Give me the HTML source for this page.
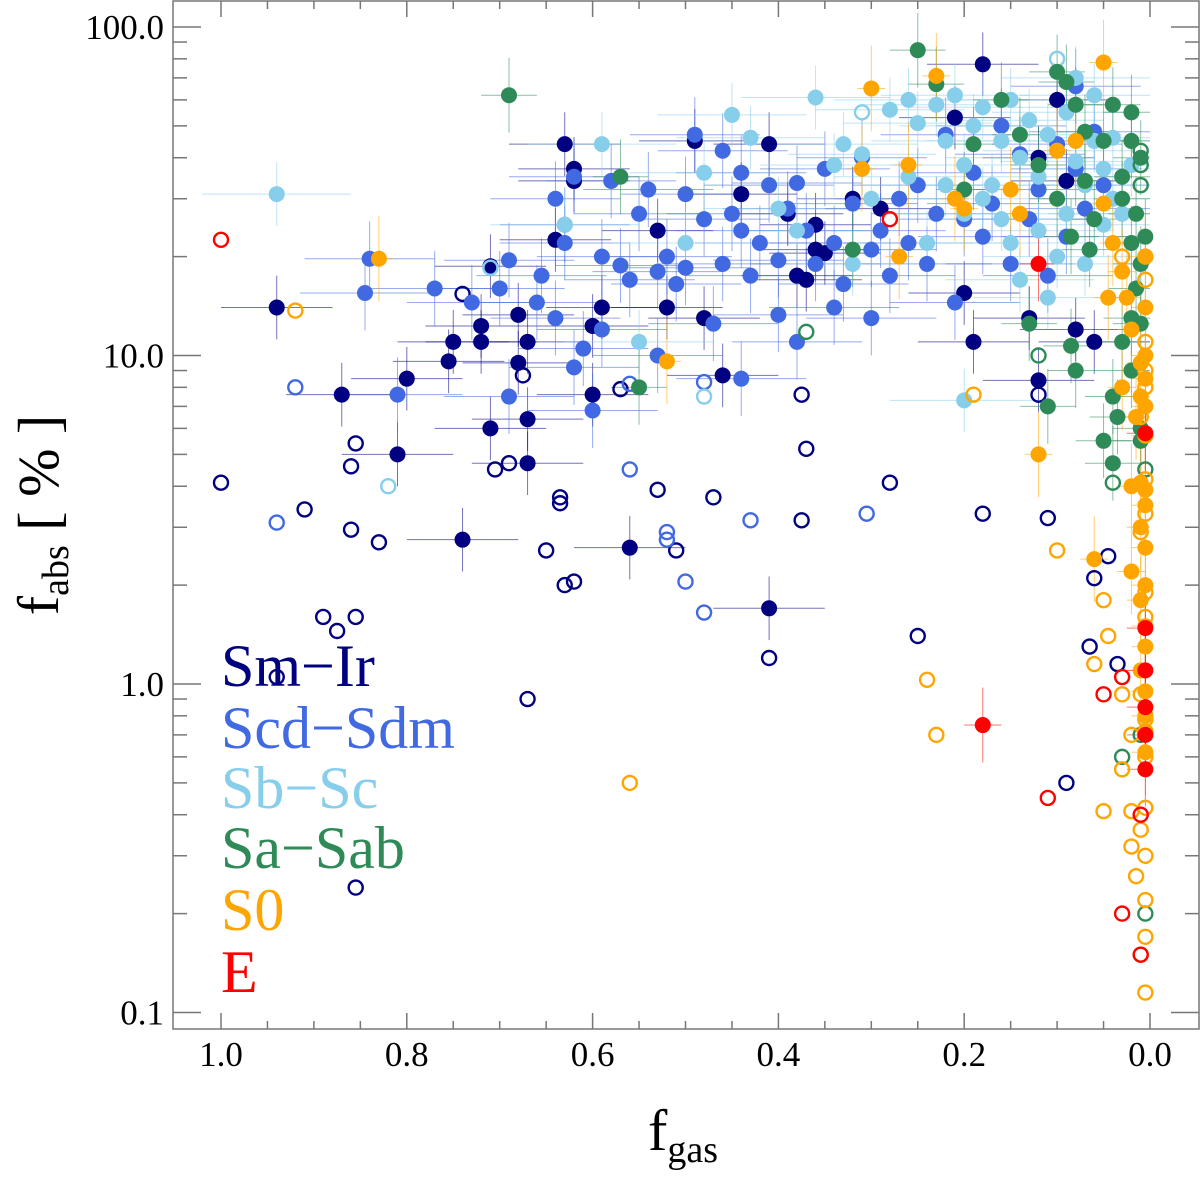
<!DOCTYPE html>
<html><head><meta charset="utf-8">
<style>
html,body{margin:0;padding:0;background:#fff;}
svg{display:block;font-family:"Liberation Serif",serif;}
</style></head>
<body>
<svg id="chart" width="1200" height="1179" viewBox="0 0 1200 1179" xmlns="http://www.w3.org/2000/svg">
<g id="errs"></g>
<g id="marks"></g>
<rect x="173" y="1" width="1026" height="1028" fill="none" stroke="#777" stroke-width="1.5"/>
<g id="axes"></g>
<text x="683" y="1150" font-size="58" text-anchor="middle">f<tspan font-size="38" dy="12">gas</tspan></text>
<text transform="translate(58,515) rotate(-90)" font-size="58" text-anchor="middle">f<tspan font-size="38" dy="10">abs</tspan><tspan dy="-10">  [ % ]</tspan></text>
<g font-size="60">
<text x="221" y="686" fill="#000080">Sm−Ir</text>
<text x="221" y="748" fill="#4169E1">Scd−Sdm</text>
<text x="221" y="808" fill="#87CEEB">Sb−Sc</text>
<text x="221" y="868" fill="#2E8B57">Sa−Sab</text>
<text x="221" y="930" fill="#FFA500">S0</text>
<text x="221" y="992" fill="#FF0000">E</text>
</g>
</svg>
<script>
const xTicks=[1.0,0.8,0.6,0.4,0.2,0.0];
const xTickLabels=["1.0","0.8","0.6","0.4","0.2","0.0"];
const yTicks=[0.1,1,10,100];
const yTickLabels=["0.1","1.0","10.0","100.0"];

const smFilled=[[0.94,14],[0.87,7.6],[0.80,8.5],[0.81,5],[0.75,11],[0.755,9.6],[0.72,11],[0.72,12.3],[0.71,18.7],[0.71,6],[0.68,13.3],[0.68,9.5],[0.67,11],[0.67,6.4],[0.67,4.7],[0.63,44],[0.62,37],[0.62,34],[0.60,12.3],[0.60,7.6],[0.56,2.6],[0.59,14],[0.52,14],[0.48,13],[0.46,8.7],[0.44,31],[0.41,44],[0.41,1.7],[0.38,17.5],[0.37,17],[0.36,21],[0.35,20.5],[0.32,30],[0.29,28],[0.21,53],[0.18,77],[0.20,15.5],[0.19,11],[0.13,13],[0.12,8.4],[0.12,40],[0.08,12],[0.06,11],[0.10,60],[0.09,34],[0.74,2.75],[0.39,27],[0.36,25],[0.53,24],[0.64,22.5],[0.49,45]];
const smOpen=[[1.0,4.1],[0.94,1.05],[0.91,3.4],[0.89,1.6],[0.875,1.45],[0.86,4.6],[0.855,5.4],[0.86,2.95],[0.855,1.6],[0.855,0.24],[0.83,2.7],[0.74,15.4],[0.705,4.5],[0.69,4.7],[0.675,8.7],[0.67,0.9],[0.635,3.7],[0.635,3.55],[0.63,2],[0.62,2.05],[0.65,2.55],[0.57,7.9],[0.53,3.9],[0.51,2.55],[0.47,3.7],[0.41,1.2],[0.375,7.6],[0.37,5.2],[0.375,3.15],[0.28,4.1],[0.25,1.4],[0.18,3.3],[0.11,3.2],[0.09,0.5],[0.06,2.1],[0.065,1.3],[0.045,2.45],[0.035,1.15],[0.12,7.6]];
const scdFilled=[[0.84,19.7],[0.845,15.5],[0.81,7.6],[0.77,16],[0.73,14.5],[0.70,16],[0.69,19.5],[0.69,7.5],[0.66,14.5],[0.655,17.5],[0.64,13],[0.63,25],[0.63,22],[0.62,9.2],[0.61,10.5],[0.60,6.8],[0.59,12],[0.59,20],[0.57,18.8],[0.56,17],[0.55,27],[0.54,32],[0.53,18],[0.52,20],[0.51,16.5],[0.50,18.5],[0.50,31],[0.49,47],[0.48,26],[0.47,12.5],[0.46,19],[0.45,27],[0.44,24],[0.44,36],[0.43,17.5],[0.42,22],[0.41,33],[0.40,13.3],[0.40,19.5],[0.39,28],[0.38,33.5],[0.38,11],[0.37,24],[0.36,19],[0.35,37],[0.34,14],[0.34,22],[0.33,16.5],[0.32,29],[0.31,40],[0.30,21],[0.30,13],[0.29,24],[0.28,17.5],[0.27,30],[0.26,22],[0.25,33],[0.24,19],[0.23,27],[0.22,47],[0.21,14.5],[0.20,26],[0.19,36],[0.18,23],[0.17,29],[0.16,50],[0.15,19],[0.14,41],[0.13,26],[0.12,32],[0.11,17.5],[0.10,44],[0.09,23],[0.08,37],[0.07,28],[0.06,48],[0.05,33],[0.08,66],[0.53,10],[0.64,30],[0.58,34],[0.46,42],[0.62,35],[0.44,8.5]];
const scdOpen=[[0.92,8],[0.94,3.1],[0.56,4.5],[0.52,2.9],[0.52,2.75],[0.50,2.05],[0.48,1.65],[0.43,3.15],[0.305,3.3],[0.56,8.2],[0.48,8.3]];
const sbFilled=[[0.94,31],[0.63,25],[0.59,44],[0.55,11],[0.45,54],[0.43,46],[0.36,61],[0.33,44],[0.31,41],[0.28,56],[0.26,60],[0.25,51],[0.23,58],[0.22,45],[0.21,62],[0.20,38],[0.19,50],[0.18,57],[0.17,33],[0.16,45],[0.15,60],[0.14,40],[0.13,52],[0.12,35],[0.11,47],[0.10,42],[0.09,55],[0.08,39],[0.07,33],[0.06,45],[0.05,37],[0.04,30],[0.03,27],[0.12,24],[0.15,22],[0.10,20],[0.18,30],[0.22,33],[0.26,35],[0.30,30],[0.34,38],[0.40,28],[0.48,36],[0.50,22],[0.20,7.3],[0.07,19],[0.11,15],[0.14,17],[0.16,26],[0.09,27],[0.05,25],[0.20,27],[0.24,22],[0.32,19],[0.38,24],[0.04,46],[0.02,38],[0.08,70],[0.06,62]];
const sbOpen=[[0.82,4],[0.10,80],[0.48,7.5],[0.71,18.5],[0.31,55]];
const saFilled=[[0.69,62],[0.25,85],[0.57,35],[0.55,8],[0.32,21],[0.23,67],[0.10,73],[0.09,68],[0.12,38],[0.13,12.5],[0.11,7],[0.08,58],[0.07,34],[0.06,26],[0.05,45],[0.04,58],[0.02,55],[0.02,45],[0.01,40],[0.03,30],[0.02,22],[0.01,19],[0.015,16],[0.02,13],[0.03,11],[0.01,12.5],[0.02,9],[0.04,7.5],[0.035,6.5],[0.05,5.5],[0.04,4.7],[0.01,6],[0.01,5.5],[0.085,10.7],[0.08,9],[0.065,21],[0.085,23],[0.10,30],[0.14,47],[0.16,60],[0.19,44],[0.20,32],[0.07,48],[0.03,35],[0.015,27],[0.005,23]];
const saOpen=[[0.37,11.8],[0.12,10],[0.04,4.1],[0.03,0.6],[0.01,0.7],[0.005,0.2],[0.01,33],[0.01,42],[0.01,38],[0.005,4.5]];
const s0Filled=[[0.83,19.7],[0.30,65],[0.23,71],[0.05,78],[0.52,9.6],[0.12,5],[0.26,38],[0.27,20],[0.20,28],[0.15,32],[0.05,29],[0.04,22],[0.03,18],[0.025,15],[0.045,15],[0.02,12],[0.01,9.5],[0.005,8.5],[0.01,7.5],[0.005,7],[0.015,6.5],[0.005,5.7],[0.01,4.1],[0.005,3.9],[0.02,4],[0.005,3.5],[0.01,3],[0.005,2.6],[0.02,2.2],[0.005,2],[0.01,1.8],[0.005,1.5],[0.005,1.3],[0.01,1.1],[0.005,0.95],[0.005,0.8],[0.005,0.72],[0.005,0.62],[0.06,2.4],[0.03,8],[0.005,10],[0.005,14],[0.005,20],[0.31,37],[0.21,30],[0.10,42],[0.08,45],[0.14,27]];
const s0Open=[[0.92,13.7],[0.56,0.5],[0.24,1.03],[0.23,0.7],[0.19,7.6],[0.10,2.55],[0.05,1.8],[0.045,1.4],[0.06,1.15],[0.05,0.41],[0.02,0.32],[0.015,0.26],[0.005,0.115],[0.005,0.17],[0.01,0.15],[0.005,0.22],[0.005,0.3],[0.01,0.36],[0.02,0.41],[0.005,0.42],[0.03,0.55],[0.005,0.6],[0.02,0.7],[0.005,0.78],[0.01,0.93],[0.03,0.93],[0.005,1.6],[0.005,1.9],[0.01,2.9],[0.005,3.3],[0.005,4.2],[0.01,6.5],[0.005,8],[0.005,9],[0.005,11],[0.005,17],[0.005,20],[0.03,20]];
const eFilled=[[0.18,0.75],[0.12,19],[0.005,1.48],[0.005,1.1],[0.005,0.85],[0.005,0.55],[0.005,0.7],[0.005,5.8]];
const eOpen=[[1.0,22.5],[0.28,26],[0.05,0.93],[0.11,0.45],[0.03,0.2],[0.01,0.15],[0.03,1.05],[0.01,0.4]];

const X0=1150, XS=929, Y1=684, YD=328.5;
function xs(f){return X0-XS*f;}
function ys(v){return Y1-YD*Math.log10(v);}
const NS="http://www.w3.org/2000/svg";
function mk(tag,attrs,parent){const e=document.createElementNS(NS,tag);for(const k in attrs)e.setAttribute(k,attrs[k]);parent.appendChild(e);return e;}
const axes=document.getElementById('axes');
const errs=document.getElementById('errs');
const marks=document.getElementById('marks');

for(let i=0;i<=20;i++){
  const f=i*0.05, x=xs(f), L=(i%4===0)?16:8;
  const t1=mk('line',{x1:x,x2:x,y1:1029,y2:1029-L,stroke:'#777','stroke-width':1.5},axes);
  
  
  const t2=mk('line',{x1:x,x2:x,y1:1,y2:1+L,stroke:'#777','stroke-width':1.5},axes);
  
  
}
xTicks.forEach((f,i)=>{
  const t=mk('text',{x:xs(f),y:1066,'font-size':35,'text-anchor':'middle'},axes);
  t.textContent=xTickLabels[i];
  
  
});
for(let d=-1;d<=2;d++){
  for(let m=1;m<=9;m++){
    const v=m*Math.pow(10,d); const y=ys(v);
    if(y<1||y>1029)continue;
    const L=(m===1)?28:14;
    const a=mk('line',{x1:173,x2:173+L,y1:y,y2:y,stroke:'#777','stroke-width':1.5},axes);
    
    
    const b=mk('line',{x1:1199,x2:1199-L,y1:y,y2:y,stroke:'#777','stroke-width':1.5},axes);
    
    
  }
}
yTicks.forEach((v,i)=>{
  const t=mk('text',{x:164,y:ys(v)+12,'font-size':35,'text-anchor':'end'},axes);
  t.textContent=yTickLabels[i];
  
  
});

const series=[
  {name:'sm-ir',c:'#000080',f:smFilled,o:smOpen,xe:0.06,ye:0.25},
  {name:'scd-sdm',c:'#4169E1',f:scdFilled,o:scdOpen,xe:0.07,ye:0.3},
  {name:'sb-sc',c:'#87CEEB',f:sbFilled,o:sbOpen,xe:0.08,ye:0.25},
  {name:'sa-sab',c:'#2E8B57',f:saFilled,o:saOpen,xe:0.03,ye:0.3},
  {name:'s0',c:'#FFA500',f:s0Filled,o:s0Open,xe:0.015,ye:0.35},
  {name:'e',c:'#FF0000',f:eFilled,o:eOpen,xe:0.02,ye:0.3}
];
series.forEach(s=>{
  s.f.forEach(p=>{
    const x=xs(p[0]), y=ys(p[1]);
    const h=mk('line',{x1:xs(p[0]+s.xe),x2:xs(Math.max(p[0]-s.xe,0)),y1:y,y2:y,stroke:s.c,'stroke-width':1,opacity:0.55},errs);
    
    
    const v=mk('line',{x1:x,x2:x,y1:ys(p[1]*(1+s.ye)),y2:ys(p[1]/(1+s.ye)),stroke:s.c,'stroke-width':1,opacity:0.55},errs);
    
    
  });
});
series.forEach(s=>{
  s.o.forEach(p=>{
    const c=mk('circle',{cx:xs(p[0]),cy:ys(p[1]),r:7,fill:'none',stroke:s.c,'stroke-width':2.4},marks);
    
    
  });
  s.f.forEach(p=>{
    const c=mk('circle',{cx:xs(p[0]),cy:ys(p[1]),r:8,fill:s.c},marks);
    
    
  });
});
</script>
</body></html>
